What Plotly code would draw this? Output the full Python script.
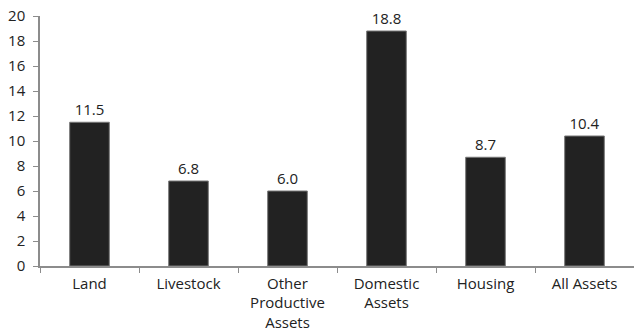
import plotly.graph_objects as go

categories = ["Land", "Livestock", "Other<br>Productive<br>Assets", "Domestic<br>Assets", "Housing", "All Assets"]
values = [11.5, 6.8, 6.0, 18.8, 8.7, 10.4]
value_labels = ["11.5", "6.8", "6.0", "18.8", "8.7", "10.4"]
y_ticks = [0, 2, 4, 6, 8, 10, 12, 14, 16, 18, 20]

font_family = "Open Sans"
text_color = "#222222"
axis_color = "#8c8c8c"

fig = go.Figure(
    go.Bar(
        x=categories,
        y=values,
        text=value_labels,
        textposition="outside",
        textfont=dict(family=font_family, size=15, color=text_color),
        cliponaxis=False,
        marker=dict(color="#222222", line=dict(color="#777777", width=1)),
        width=0.4,
    )
)

fig.update_layout(
    width=634,
    height=335,
    margin=dict(l=40, r=0, t=16, b=69),
    paper_bgcolor="white",
    plot_bgcolor="white",
    showlegend=False,
    font=dict(family=font_family, size=15, color=text_color),
    xaxis=dict(
        showline=True,
        linecolor=axis_color,
        linewidth=1.5,
        ticks="outside",
        tickson="boundaries",
        ticklen=5,
        tickcolor=axis_color,
        showgrid=False,
        tickangle=0,
        ticklabelstandoff=3,
    ),
    yaxis=dict(
        range=[0, 20],
        tickvals=y_ticks,
        showline=True,
        linecolor=axis_color,
        linewidth=1.5,
        ticks="outside",
        ticklen=5,
        tickcolor=axis_color,
        showgrid=False,
        zeroline=False,
        ticklabelstandoff=5,
    ),
)

fig.write_html("out.html")
